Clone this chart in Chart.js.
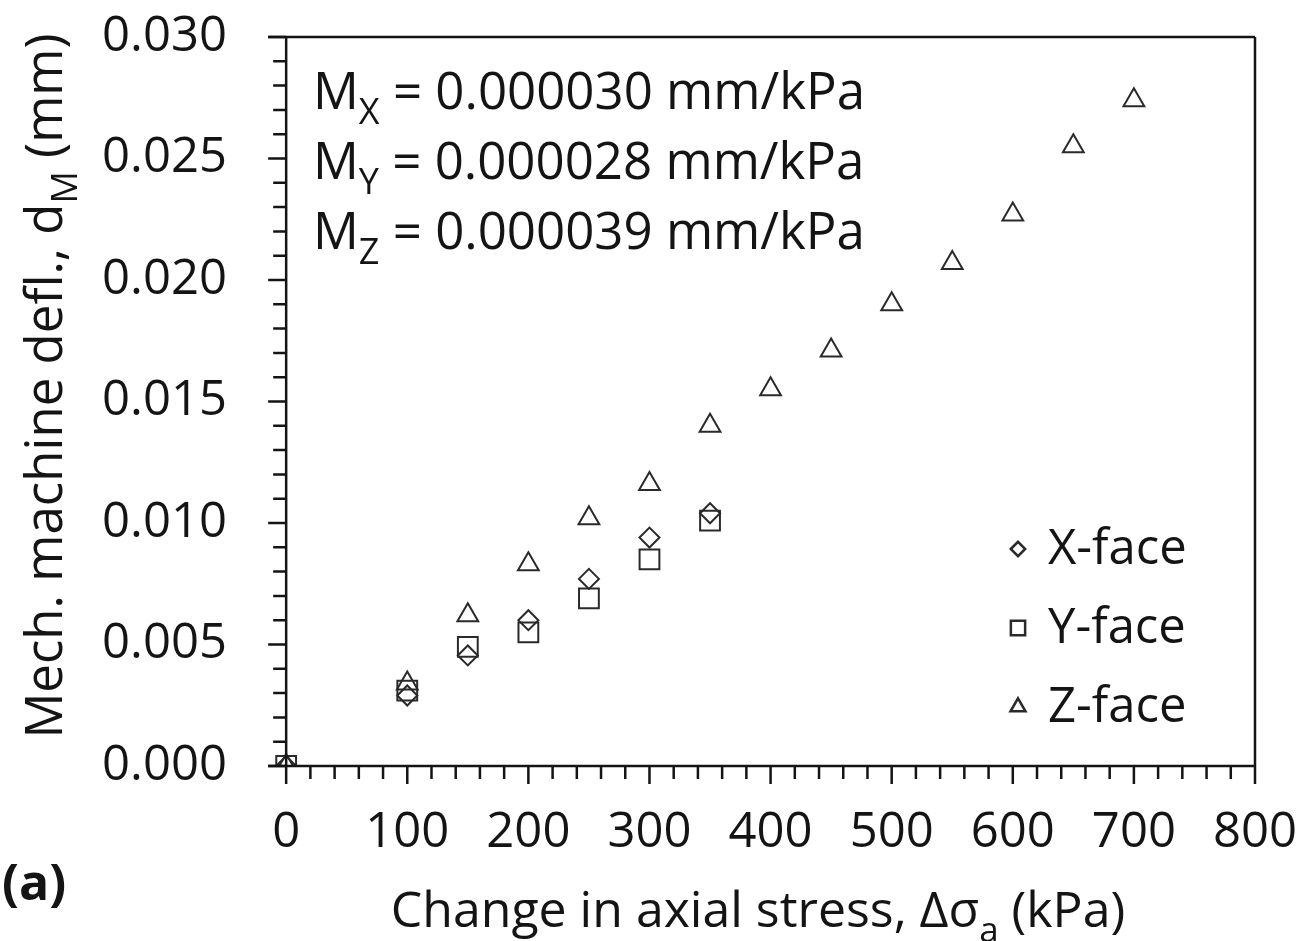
<!DOCTYPE html>
<html>
<head>
<meta charset="utf-8">
<script src="https://cdn.jsdelivr.net/npm/chart.js@4.4.1/dist/chart.umd.min.js"></script>
<style>
  html,body{margin:0;padding:0;background:#fff;}
  #wrap{width:1304px;height:941px;}
</style>
</head>
<body>
<div id="wrap"><canvas id="grafico" width="1304" height="941"></canvas></div>
<script>
// datos
const stressXY = [0, 100, 150, 200, 250, 300, 350];
const xFace = [0, 0.0029, 0.00455, 0.0060, 0.0077, 0.0094, 0.0104];
const yFace = [0, 0.0031, 0.0049, 0.0055, 0.0069, 0.0085, 0.0101];
const stressZ = [0, 100, 150, 200, 250, 300, 350, 400, 450, 500, 550, 600, 650, 700];
const zFace = [0, 0.0034, 0.0062, 0.0083, 0.0102, 0.0116, 0.0140, 0.0155, 0.0171, 0.0190, 0.0207, 0.0227, 0.0255, 0.0274];

const xTicks = [0, 100, 200, 300, 400, 500, 600, 700, 800];
const yTicks = [0, 0.005, 0.010, 0.015, 0.020, 0.025, 0.030];
const seriesNames = ['X-face', 'Y-face', 'Z-face'];
const slopes = [['X', '0.000030'], ['Y', '0.000028'], ['Z', '0.000039']];

const FONT = "'Open Sans', 'Noto Sans', sans-serif";
const INK = '#141414';
const MARK = '#2a2a2a';

const pts = (xs, ys) => xs.map((x, i) => ({x: x, y: ys[i]}));

// texto con subindice
function richWidth(ctx, parts, size){
  let w = 0;
  parts.forEach(p => {
    ctx.font = (p.sub ? Math.round(size * 0.7) : size) + 'px ' + FONT;
    w += ctx.measureText(p.t).width;
  });
  return w;
}
function drawRich(ctx, parts, x, y, size){
  parts.forEach(p => {
    ctx.font = (p.sub ? Math.round(size * 0.7) : size) + 'px ' + FONT;
    ctx.fillText(p.t, x, p.sub ? y + size * 0.3 : y);
    x += ctx.measureText(p.t).width;
  });
}

// sin relleno automatico: el area la fija layout.padding
function sinPadding(s){
  s.paddingTop = 0; s.paddingBottom = 0; s.paddingLeft = 0; s.paddingRight = 0;
}

const marcoPlugin = {
  id: 'marco',
  afterDraw(chart){
    const ctx = chart.ctx;
    const a = chart.chartArea;
    const xs = chart.scales.x, ys = chart.scales.y;
    const x0 = xs.getPixelForValue(0);
    const yb = ys.getPixelForValue(0);
    ctx.save();
    ctx.strokeStyle = INK;
    ctx.lineWidth = 2.5;
    ctx.beginPath();
    ctx.moveTo(a.left, a.top); ctx.lineTo(a.right, a.top);
    ctx.moveTo(a.right, a.top); ctx.lineTo(a.right, yb);
    ctx.moveTo(a.left, yb); ctx.lineTo(a.right, yb);
    ctx.moveTo(x0, a.top); ctx.lineTo(x0, yb);
    ctx.stroke();

    // marcas del eje x (cada 20)
    ctx.beginPath();
    for(let v = 0; v <= 800; v += 20){
      const px = xs.getPixelForValue(v);
      ctx.moveTo(px, yb); ctx.lineTo(px, yb + (v % 100 === 0 ? 18 : 13));
    }
    // marcas del eje y (cada 0.001)
    for(let k = 0; k <= 30; k++){
      const py = ys.getPixelForValue(k / 1000);
      ctx.moveTo(x0, py); ctx.lineTo(x0 - (k % 5 === 0 ? 18 : 13), py);
    }
    ctx.stroke();

    ctx.fillStyle = INK;
    ctx.textBaseline = 'alphabetic';
    ctx.textAlign = 'left';

    // pendientes
    slopes.forEach((s, i) => {
      drawRich(ctx, [{t: 'M'}, {t: s[0], sub: true}, {t: ' = ' + s[1] + ' mm/kPa'}], 313, 109 + i * 70, 51);
    });

    // leyenda
    const ds = chart.data.datasets;
    ds.forEach((d, i) => {
      const ly = 549 + i * 79;
      ctx.fillStyle = 'rgba(0,0,0,0)';
      ctx.strokeStyle = MARK;
      Chart.helpers.drawPoint(ctx, {
        pointStyle: d.pointStyle, radius: d.pointRadius * 0.72, borderWidth: 1.8, rotation: 0
      }, 1018, ly);
      ctx.fillStyle = INK;
      ctx.font = '49px ' + FONT;
      ctx.textBaseline = 'middle';
      ctx.fillText(d.label, 1048, ly + 1);
    });

    // titulo eje x
    ctx.textBaseline = 'alphabetic';
    const tx = [{t: 'Change in axial stress, \u0394\u03c3'}, {t: 'a', sub: true}, {t: ' (kPa)'}];
    const wx = richWidth(ctx, tx, 50);
    drawRich(ctx, tx, 758 - wx / 2, 927, 50);

    // titulo eje y
    const ty = [{t: 'Mech. machine defl., d'}, {t: 'M', sub: true}, {t: ' (mm)'}];
    const wy = richWidth(ctx, ty, 51);
    ctx.save();
    ctx.translate(62, 386);
    ctx.rotate(-Math.PI / 2);
    drawRich(ctx, ty, -wy / 2, 0, 51);
    ctx.restore();

    // etiqueta del panel
    ctx.font = 'bold 50px ' + FONT;
    ctx.fillText('(a)', 2, 900);
    ctx.restore();
  }
};

new Chart(document.getElementById('grafico'), {
  type: 'scatter',
  data: {
    datasets: [
      {label: seriesNames[0], data: pts(stressXY, xFace), pointStyle: 'rectRot', pointRadius: 10},
      {label: seriesNames[1], data: pts(stressXY, yFace), pointStyle: 'rect', pointRadius: 14},
      {label: seriesNames[2], data: pts(stressZ, zFace), pointStyle: 'triangle', pointRadius: 12}
    ].map(d => Object.assign(d, {
      borderColor: MARK, backgroundColor: 'rgba(0,0,0,0)', borderWidth: 2, pointHoverRadius: d.pointRadius
    }))
  },
  options: {
    responsive: false,
    animation: false,
    devicePixelRatio: 1,
    layout: {padding: {top: 37, right: 49, left: 0, bottom: 0}},
    plugins: {legend: {display: false}, tooltip: {enabled: false}},
    scales: {
      x: {
        type: 'linear', min: -15, max: 800,
        afterBuildTicks: s => { s.ticks = xTicks.map(v => ({value: v})); },
        afterFit: s => { s.height = 175; sinPadding(s); },
        grid: {display: false, drawTicks: false},
        border: {display: false},
        ticks: {font: {family: FONT, size: 49}, color: INK, padding: 38, maxRotation: 0, autoSkip: false}
      },
      y: {
        type: 'linear', min: 0, max: 0.03,
        afterBuildTicks: s => { s.ticks = yTicks.map(v => ({value: v})); },
        afterFit: s => { s.width = 268; sinPadding(s); },
        grid: {display: false, drawTicks: false},
        border: {display: false},
        ticks: {font: {family: FONT, size: 49}, color: INK, padding: 41, autoSkip: false,
          callback: v => v.toFixed(3)}
      }
    }
  },
  plugins: [marcoPlugin]
});
</script>
</body>
</html>
